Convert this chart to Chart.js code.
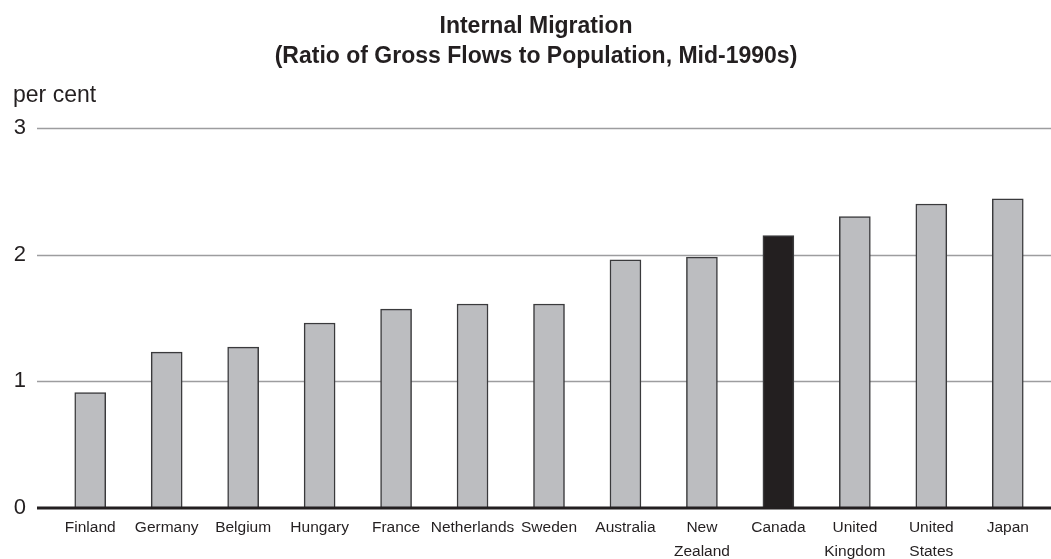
<!DOCTYPE html>
<html>
<head>
<meta charset="utf-8">
<script src="https://cdn.jsdelivr.net/npm/chart.js@4"></script>
<style>
    html, body { margin: 0; padding: 0; background: #fff; }
    #wrap { width: 1051px; height: 559px; }
</style>
</head>
<body>
<div id="wrap"><canvas id="barChart"></canvas></div>
<script>
// Chart data
const countries = ['Finland', 'Germany', 'Belgium', 'Hungary', 'France', 'Netherlands', 'Sweden',
    'Australia', ['New', 'Zealand'], 'Canada', ['United', 'Kingdom'], ['United', 'States'], 'Japan'];
const ratios = [0.91, 1.23, 1.27, 1.46, 1.57, 1.61, 1.61, 1.96, 1.98, 2.15, 2.30, 2.40, 2.44];
const highlighted = 'Canada';
const yTicks = [0, 1, 2, 3];
const titleLines = ['Internal Migration', '(Ratio of Gross Flows to Population, Mid-1990s)'];
const unitLabel = 'per cent';

const barGrey = '#bcbdc0';
const barDark = '#231f20';
const textColor = '#231f20';
const fontFamily = '"Liberation Sans", Arial, sans-serif';

// title, unit label, grid lines and the zero line (these run past the y labels)
const gridPlugin = {
    id: 'gridPlugin',
    beforeDatasetsDraw(chart) {
        const ctx = chart.ctx;
        const y = chart.scales.y;
        ctx.save();
        ctx.strokeStyle = '#9d9d9f';
        ctx.lineWidth = 1.5;
        yTicks.forEach(function (v) {
            if (v === 0) return;
            const py = Math.round(y.getPixelForValue(v)) + 0.5;
            ctx.beginPath();
            ctx.moveTo(37, py);
            ctx.lineTo(chart.width, py);
            ctx.stroke();
        });

        ctx.fillStyle = textColor;
        ctx.textBaseline = 'middle';
        ctx.textAlign = 'center';
        ctx.font = 'bold 23px ' + fontFamily;
        ctx.fillText(titleLines[0], 536, 27);
        ctx.fillText(titleLines[1], 536, 57);

        ctx.textAlign = 'left';
        ctx.textBaseline = 'alphabetic';
        ctx.font = '23px ' + fontFamily;
        ctx.fillText(unitLabel, 13, 102);
        ctx.restore();
    },
    afterDatasetsDraw(chart) {
        const ctx = chart.ctx;
        const py = chart.scales.y.getPixelForValue(0);
        ctx.save();
        ctx.strokeStyle = '#231f20';
        ctx.lineWidth = 3;
        ctx.beginPath();
        ctx.moveTo(37, py);
        ctx.lineTo(chart.width, py);
        ctx.stroke();
        ctx.restore();
    }
};

const barCtx = document.getElementById('barChart').getContext('2d');
const barChart = new Chart(barCtx, {
    type: 'bar',
    data: {
        labels: countries,
        datasets: [{
            label: 'Internal migration',
            data: ratios,
            backgroundColor: countries.map(c => c === highlighted ? barDark : barGrey),
            borderColor: '#3a3a3c',
            borderWidth: 1.5,
            borderSkipped: 'bottom',
            barThickness: 31
        }]
    },
    options: {
        responsive: true,
        maintainAspectRatio: false,
        animation: false,
        layout: { padding: { top: 128, left: 5, right: 5, bottom: -13 } },
        plugins: {
            legend: { display: false },
            tooltip: { enabled: false },
            title: { display: false }
        },
        scales: {
            x: {
                grid: { display: false, drawTicks: false },
                border: { display: false },
                ticks: {
                    color: textColor,
                    autoSkip: false,
                    maxRotation: 0,
                    padding: 8,
                    font: { family: fontFamily, size: 15.5, lineHeight: 1.55 }
                }
            },
            y: {
                min: 0,
                max: 3,
                grid: { display: false, drawTicks: false },
                border: { display: false },
                afterFit: function (scale) { scale.width = 47; },
                ticks: {
                    stepSize: 1,
                    color: textColor,
                    padding: 26,
                    font: { family: fontFamily, size: 22 }
                }
            }
        }
    },
    plugins: [gridPlugin]
});
</script>
</body>
</html>
